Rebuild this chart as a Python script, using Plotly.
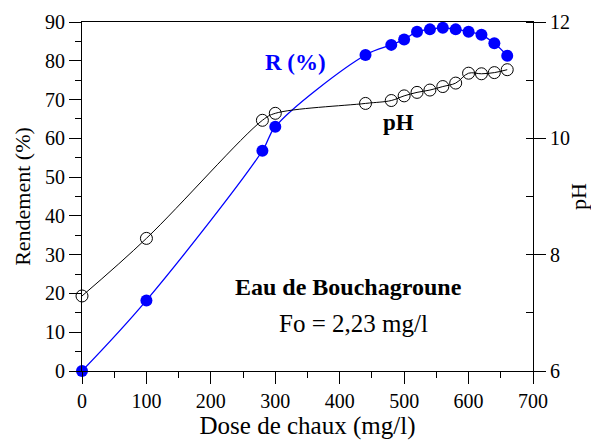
import plotly.graph_objects as go

# Dose de chaux (mg/l)
dose_r = [0, 100, 280, 300, 440, 480, 500, 520, 540, 560, 580, 600, 620, 640, 660]
# Rendement R (%)
rendement = [0, 18.2, 56.8, 63.0, 81.5, 84.1, 85.5, 87.5, 88.1, 88.5, 88.1, 87.5, 86.7, 84.5, 81.3]

dose_ph = [0, 100, 280, 300, 440, 480, 500, 520, 540, 560, 580, 600, 620, 640, 660]
ph = [7.29, 8.28, 10.31, 10.43, 10.60, 10.65, 10.73, 10.79, 10.83, 10.89, 10.95, 11.12, 11.11, 11.13, 11.18]

FONT = "Liberation Serif"

fig = go.Figure()

fig.add_trace(go.Scatter(
    x=dose_ph, y=ph, yaxis="y2", mode="lines+markers",
    line=dict(color="black", width=1, shape="spline", smoothing=1.0),
    marker=dict(symbol="circle-open", size=12, color="black", line=dict(width=1)),
    cliponaxis=False, showlegend=False,
))

fig.add_trace(go.Scatter(
    x=dose_r, y=rendement, mode="lines+markers",
    line=dict(color="#0000ff", width=1.3, shape="spline", smoothing=1.0),
    marker=dict(symbol="circle", size=12, color="#0000ff"),
    cliponaxis=False, showlegend=False,
))

axis_common = dict(
    showline=True, linecolor="black", linewidth=1,
    ticks="outside", ticklen=12, tickwidth=1, tickcolor="black",
    showgrid=False, zeroline=False, automargin=False,
    tickfont=dict(family=FONT, size=20, color="black"),
)

fig.update_layout(
    width=591, height=441,
    margin=dict(l=82, r=58, t=22, b=70),
    paper_bgcolor="white", plot_bgcolor="white",
    font=dict(family=FONT, color="black"),
    xaxis=dict(
        range=[0, 700], dtick=100, tick0=0, mirror=True,
        minor=dict(ticks="outside", ticklen=6, dtick=50, tickcolor="black"),
        title=dict(text="Dose de chaux (mg/l)", font=dict(family=FONT, size=25), standoff=5),
        **axis_common,
    ),
    yaxis=dict(
        range=[0, 90], dtick=10, tick0=0,
        minor=dict(ticks="outside", ticklen=6, dtick=5, tickcolor="black"),
        title=dict(text="Rendement (%)", font=dict(family=FONT, size=22), standoff=8),
        **axis_common,
    ),
    yaxis2=dict(
        range=[6, 12], dtick=2, tick0=6, overlaying="y", side="right",
        minor=dict(ticks="inside", ticklen=7, dtick=1, tickcolor="black"),
        title=dict(text="pH", font=dict(family=FONT, size=22), standoff=10),
        **axis_common,
    ),
)

fig.add_annotation(x=295, y=62, xref="x", yref="y", text="<b>R (%)</b>",
                   showarrow=False, font=dict(family=FONT, size=23, color="#0000ff"))
fig.add_annotation(x=398, y=122, xref="x", yref="y", text="<b>pH</b>",
                   showarrow=False, font=dict(family=FONT, size=23, color="black"))
fig.add_annotation(x=348, y=287, xref="x", yref="y", text="<b>Eau de Bouchagroune</b>",
                   showarrow=False, font=dict(family=FONT, size=24, color="black"))
fig.add_annotation(x=353, y=323, xref="x", yref="y", text="Fo = 2,23 mg/l",
                   showarrow=False, font=dict(family=FONT, size=25, color="black"))

# annotation positions above are in pixels; convert to data coordinates
for ann in fig.layout.annotations:
    px, py = ann.x, ann.y
    ann.x = (px - 82) / (533 - 82) * 700
    ann.y = (371 - py) / (371 - 21.7) * 90

fig.write_html("out.html")
